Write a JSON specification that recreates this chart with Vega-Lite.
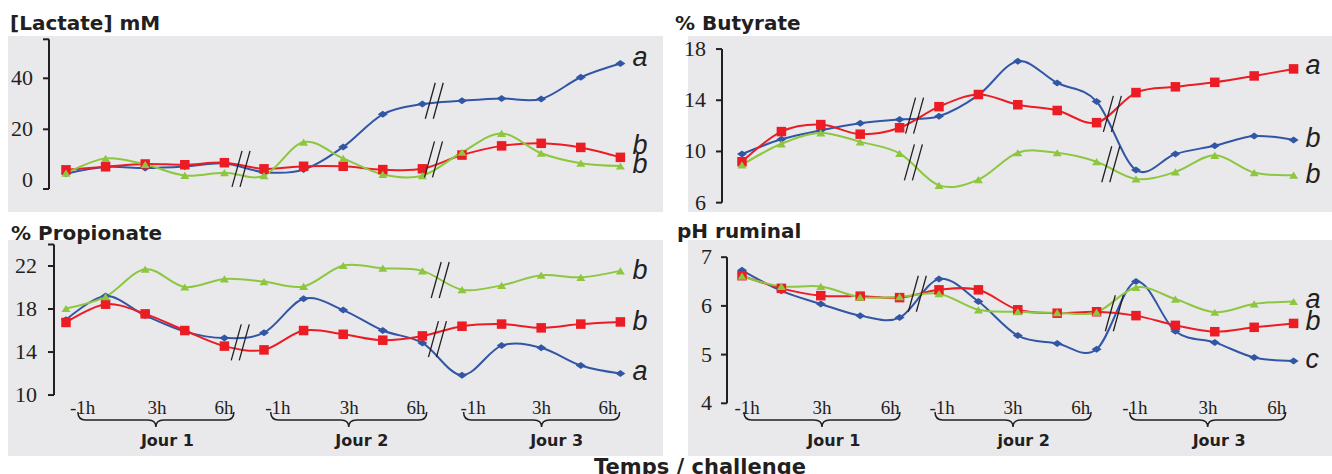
{
  "$schema": "https://vega.github.io/schema/vega-lite/v6.json",
  "background": "white",
  "padding": {"left": 8, "top": 14, "right": 0, "bottom": 0},
  "title": {"text": "Temps / challenge", "orient": "bottom", "anchor": "middle", "frame": "bounds", "dx": 30, "offset": 1, "fontSize": 21, "baseline": "top"},
  "bounds": "flush",
  "spacing": {"row": 28, "column": 25},
  "columns": 2,
  "datasets": {
    "lactate": [
      {"i":1,"s":"bleu","v":2.6},{"i":2,"s":"bleu","v":5.2},{"i":3,"s":"bleu","v":4.8},{"i":4,"s":"bleu","v":5.4},{"i":5,"s":"bleu","v":6.6},
      {"i":6,"s":"bleu","v":3.2},{"i":7,"s":"bleu","v":4.2},{"i":8,"s":"bleu","v":13.1},{"i":9,"s":"bleu","v":25.9},{"i":10,"s":"bleu","v":29.9},
      {"i":11,"s":"bleu","v":31.2},{"i":12,"s":"bleu","v":32.1},{"i":13,"s":"bleu","v":31.9},{"i":14,"s":"bleu","v":40.4},{"i":15,"s":"bleu","v":45.8},
      {"i":1,"s":"rouge","v":4.1},{"i":2,"s":"rouge","v":5.3},{"i":3,"s":"rouge","v":6.4},{"i":4,"s":"rouge","v":6.1},{"i":5,"s":"rouge","v":6.9},
      {"i":6,"s":"rouge","v":4.5},{"i":7,"s":"rouge","v":5.5},{"i":8,"s":"rouge","v":5.5},{"i":9,"s":"rouge","v":4.2},{"i":10,"s":"rouge","v":4.5},
      {"i":11,"s":"rouge","v":9.9},{"i":12,"s":"rouge","v":13.5},{"i":13,"s":"rouge","v":14.5},{"i":14,"s":"rouge","v":12.9},{"i":15,"s":"rouge","v":9.0},
      {"i":1,"s":"vert","v":2.8},{"i":2,"s":"vert","v":8.6},{"i":3,"s":"vert","v":6.2},{"i":4,"s":"vert","v":1.9},{"i":5,"s":"vert","v":3.0},
      {"i":6,"s":"vert","v":1.8},{"i":7,"s":"vert","v":15.0},{"i":8,"s":"vert","v":8.6},{"i":9,"s":"vert","v":2.3},{"i":10,"s":"vert","v":1.8},
      {"i":11,"s":"vert","v":11.0},{"i":12,"s":"vert","v":18.4},{"i":13,"s":"vert","v":10.6},{"i":14,"s":"vert","v":6.7},{"i":15,"s":"vert","v":5.6}
    ],
    "butyrate": [
      {"i":1,"s":"bleu","v":9.8},{"i":2,"s":"bleu","v":10.95},{"i":3,"s":"bleu","v":11.65},{"i":4,"s":"bleu","v":12.2},{"i":5,"s":"bleu","v":12.5},
      {"i":6,"s":"bleu","v":12.75},{"i":7,"s":"bleu","v":14.4},{"i":8,"s":"bleu","v":17.05},{"i":9,"s":"bleu","v":15.35},{"i":10,"s":"bleu","v":13.9},
      {"i":11,"s":"bleu","v":8.55},{"i":12,"s":"bleu","v":9.8},{"i":13,"s":"bleu","v":10.45},{"i":14,"s":"bleu","v":11.2},{"i":15,"s":"bleu","v":10.9},
      {"i":1,"s":"rouge","v":9.2},{"i":2,"s":"rouge","v":11.55},{"i":3,"s":"rouge","v":12.1},{"i":4,"s":"rouge","v":11.35},{"i":5,"s":"rouge","v":11.85},
      {"i":6,"s":"rouge","v":13.5},{"i":7,"s":"rouge","v":14.45},{"i":8,"s":"rouge","v":13.65},{"i":9,"s":"rouge","v":13.2},{"i":10,"s":"rouge","v":12.25},
      {"i":11,"s":"rouge","v":14.6},{"i":12,"s":"rouge","v":15.05},{"i":13,"s":"rouge","v":15.4},{"i":14,"s":"rouge","v":15.9},{"i":15,"s":"rouge","v":16.45},
      {"i":1,"s":"vert","v":8.95},{"i":2,"s":"vert","v":10.6},{"i":3,"s":"vert","v":11.45},{"i":4,"s":"vert","v":10.75},{"i":5,"s":"vert","v":9.85},
      {"i":6,"s":"vert","v":7.35},{"i":7,"s":"vert","v":7.8},{"i":8,"s":"vert","v":9.9},{"i":9,"s":"vert","v":9.9},{"i":10,"s":"vert","v":9.2},
      {"i":11,"s":"vert","v":7.85},{"i":12,"s":"vert","v":8.4},{"i":13,"s":"vert","v":9.7},{"i":14,"s":"vert","v":8.35},{"i":15,"s":"vert","v":8.15}
    ],
    "propionate": [
      {"i":1,"s":"bleu","v":17.0},{"i":2,"s":"bleu","v":19.2},{"i":3,"s":"bleu","v":17.4},{"i":4,"s":"bleu","v":15.9},{"i":5,"s":"bleu","v":15.3},
      {"i":6,"s":"bleu","v":15.8},{"i":7,"s":"bleu","v":18.95},{"i":8,"s":"bleu","v":17.9},{"i":9,"s":"bleu","v":16.0},{"i":10,"s":"bleu","v":14.85},
      {"i":11,"s":"bleu","v":11.85},{"i":12,"s":"bleu","v":14.6},{"i":13,"s":"bleu","v":14.4},{"i":14,"s":"bleu","v":12.75},{"i":15,"s":"bleu","v":12.0},
      {"i":1,"s":"rouge","v":16.75},{"i":2,"s":"rouge","v":18.45},{"i":3,"s":"rouge","v":17.55},{"i":4,"s":"rouge","v":16.0},{"i":5,"s":"rouge","v":14.55},
      {"i":6,"s":"rouge","v":14.2},{"i":7,"s":"rouge","v":16.0},{"i":8,"s":"rouge","v":15.65},{"i":9,"s":"rouge","v":15.1},{"i":10,"s":"rouge","v":15.5},
      {"i":11,"s":"rouge","v":16.4},{"i":12,"s":"rouge","v":16.6},{"i":13,"s":"rouge","v":16.25},{"i":14,"s":"rouge","v":16.6},{"i":15,"s":"rouge","v":16.8},
      {"i":1,"s":"vert","v":18.05},{"i":2,"s":"vert","v":19.15},{"i":3,"s":"vert","v":21.7},{"i":4,"s":"vert","v":20.05},{"i":5,"s":"vert","v":20.8},
      {"i":6,"s":"vert","v":20.55},{"i":7,"s":"vert","v":20.1},{"i":8,"s":"vert","v":22.05},{"i":9,"s":"vert","v":21.8},{"i":10,"s":"vert","v":21.55},
      {"i":11,"s":"vert","v":19.8},{"i":12,"s":"vert","v":20.2},{"i":13,"s":"vert","v":21.15},{"i":14,"s":"vert","v":20.95},{"i":15,"s":"vert","v":21.55}
    ],
    "ph": [
      {"i":1,"s":"bleu","v":6.73},{"i":2,"s":"bleu","v":6.31},{"i":3,"s":"bleu","v":6.04},{"i":4,"s":"bleu","v":5.8},{"i":5,"s":"bleu","v":5.76},
      {"i":6,"s":"bleu","v":6.55},{"i":7,"s":"bleu","v":6.09},{"i":8,"s":"bleu","v":5.39},{"i":9,"s":"bleu","v":5.23},{"i":10,"s":"bleu","v":5.11},
      {"i":11,"s":"bleu","v":6.5},{"i":12,"s":"bleu","v":5.48},{"i":13,"s":"bleu","v":5.25},{"i":14,"s":"bleu","v":4.94},{"i":15,"s":"bleu","v":4.87},
      {"i":1,"s":"rouge","v":6.62},{"i":2,"s":"rouge","v":6.36},{"i":3,"s":"rouge","v":6.21},{"i":4,"s":"rouge","v":6.2},{"i":5,"s":"rouge","v":6.17},
      {"i":6,"s":"rouge","v":6.33},{"i":7,"s":"rouge","v":6.33},{"i":8,"s":"rouge","v":5.92},{"i":9,"s":"rouge","v":5.85},{"i":10,"s":"rouge","v":5.88},
      {"i":11,"s":"rouge","v":5.8},{"i":12,"s":"rouge","v":5.6},{"i":13,"s":"rouge","v":5.47},{"i":14,"s":"rouge","v":5.56},{"i":15,"s":"rouge","v":5.64},
      {"i":1,"s":"vert","v":6.61},{"i":2,"s":"vert","v":6.4},{"i":3,"s":"vert","v":6.4},{"i":4,"s":"vert","v":6.18},{"i":5,"s":"vert","v":6.19},
      {"i":6,"s":"vert","v":6.25},{"i":7,"s":"vert","v":5.92},{"i":8,"s":"vert","v":5.88},{"i":9,"s":"vert","v":5.86},{"i":10,"s":"vert","v":5.87},
      {"i":11,"s":"vert","v":6.38},{"i":12,"s":"vert","v":6.14},{"i":13,"s":"vert","v":5.87},{"i":14,"s":"vert","v":6.04},{"i":15,"s":"vert","v":6.09}
    ]
  },
  "concat": [
    {
      "width": 655, "height": 176,
      "title": {"text": "[Lactate] mM", "dx": 2, "offset": 2},
      "layer": [
        {"data": {"values": [{}]},
         "mark": {"type": "rule", "color": "#231f20", "strokeWidth": 2},
         "encoding": {
           "x": {"datum": 0.571, "type": "quantitative", "axis": null},
           "y": {"datum": -3.4, "type": "quantitative", "axis": null},
           "y2": {"datum": 55.3}}},
        {"data": {"values": [{"v": -3.4}, {"v": 20}, {"v": 40}, {"v": 55.3}]},
         "mark": {"type": "rule", "color": "#231f20", "strokeWidth": 2, "xOffset": -6, "x2Offset": 0},
         "encoding": {"x": {"datum": 0.571, "type": "quantitative", "axis": null}, "x2": {"datum": 0.571}, "y": {"field": "v", "type": "quantitative", "axis": null}}},
        {"data": {"values": [{"v": 0, "t": "0"}, {"v": 20, "t": "20"}, {"v": 40, "t": "40"}]},
         "mark": {"type": "text", "font": "Liberation Sans Narrow", "fontSize": 22, "align": "right", "baseline": "middle", "dx": -16, "color": "#231f20"},
         "encoding": {"x": {"datum": 0.571, "type": "quantitative", "axis": null}, "y": {"field": "v", "type": "quantitative", "axis": null}, "text": {"field": "t"}}},
        {"data": {"name": "lactate"},
         "mark": {"type": "line", "interpolate": "cardinal", "strokeWidth": 2},
         "encoding": {
           "x": {"field": "i", "type": "quantitative", "scale": {"domain": [-0.4646, 16.076], "nice": false, "zero": false}, "axis": null},
           "y": {"field": "v", "type": "quantitative", "scale": {"domain": [-12.43, 56.59], "nice": false, "zero": false}, "axis": null},
           "color": {"field": "s", "type": "nominal", "scale": {"domain": ["bleu", "rouge", "vert"], "range": ["#3156a4", "#ec1c24", "#8dc63f"]}, "legend": null}}},
        {"data": {"name": "lactate"},
         "mark": {"type": "point", "filled": true, "opacity": 1, "strokeWidth": 0},
         "encoding": {
           "x": {"field": "i", "type": "quantitative", "axis": null},
           "y": {"field": "v", "type": "quantitative", "axis": null},
           "color": {"field": "s", "type": "nominal", "scale": {"domain": ["bleu", "rouge", "vert"], "range": ["#3156a4", "#ec1c24", "#8dc63f"]}, "legend": null},
           "shape": {"field": "s", "type": "nominal", "scale": {"domain": ["bleu", "rouge", "vert"], "range": ["M -1 0 L 0 -0.7 L 1 0 L 0 0.7 Z", "square", "M 0 -0.8 L 1 0.8 L -1 0.8 Z"]}, "legend": null},
           "size": {"field": "s", "type": "nominal", "scale": {"domain": ["bleu", "rouge", "vert"], "range": [100, 81, 121]}, "legend": null}}},
        {"data": {"values": [{"x": 5.42, "y": 4.5}, {"x": 10.3, "y": 31.2}, {"x": 10.28, "y": 8.2}]},
         "mark": {"type": "rule", "color": "#231f20", "strokeWidth": 1.3, "xOffset": -9, "x2Offset": 1, "yOffset": 18, "y2Offset": -18},
         "encoding": {"x": {"field": "x", "type": "quantitative", "axis": null}, "x2": {"field": "x"}, "y": {"field": "y", "type": "quantitative", "axis": null}, "y2": {"field": "y"}}},
        {"data": {"values": [{"x": 5.42, "y": 4.5}, {"x": 10.3, "y": 31.2}, {"x": 10.28, "y": 8.2}]},
         "mark": {"type": "rule", "color": "#231f20", "strokeWidth": 1.3, "xOffset": -1, "x2Offset": 9, "yOffset": 18, "y2Offset": -18},
         "encoding": {"x": {"field": "x", "type": "quantitative", "axis": null}, "x2": {"field": "x"}, "y": {"field": "y", "type": "quantitative", "axis": null}, "y2": {"field": "y"}}},
        {"data": {"values": [{"t": "a", "y": 47.8}, {"t": "b", "y": 13.3}, {"t": "b", "y": 5.9}]},
         "mark": {"type": "text", "font": "Liberation Sans", "fontStyle": "italic", "fontSize": 27, "align": "left", "baseline": "middle", "dx": 12, "color": "#231f20"},
         "encoding": {"x": {"datum": 15, "type": "quantitative", "axis": null}, "y": {"field": "y", "type": "quantitative", "axis": null}, "text": {"field": "t"}}}
      ]
    },
    {
      "width": 644, "height": 176,
      "title": {"text": "% Butyrate", "dx": -13, "offset": 2},
      "layer": [
        {"data": {"values": [{}]},
         "mark": {"type": "rule", "color": "#231f20", "strokeWidth": 2},
         "encoding": {
           "x": {"datum": 0.492, "type": "quantitative", "axis": null},
           "y": {"datum": 6, "type": "quantitative", "axis": null},
           "y2": {"datum": 18}}},
        {"data": {"values": [{"v": 6}, {"v": 10}, {"v": 14}, {"v": 18}]},
         "mark": {"type": "rule", "color": "#231f20", "strokeWidth": 2, "xOffset": -6, "x2Offset": 0},
         "encoding": {"x": {"datum": 0.492, "type": "quantitative", "axis": null}, "x2": {"datum": 0.492}, "y": {"field": "v", "type": "quantitative", "axis": null}}},
        {"data": {"values": [{"v": 6, "t": "6"}, {"v": 10, "t": "10"}, {"v": 14, "t": "14"}, {"v": 18, "t": "18"}]},
         "mark": {"type": "text", "font": "Liberation Sans Narrow", "fontSize": 22, "align": "right", "baseline": "middle", "dx": -16, "color": "#231f20"},
         "encoding": {"x": {"datum": 0.492, "type": "quantitative", "axis": null}, "y": {"field": "v", "type": "quantitative", "axis": null}, "text": {"field": "t"}}},
        {"data": {"name": "butyrate"},
         "mark": {"type": "line", "interpolate": "cardinal", "strokeWidth": 2},
         "encoding": {
           "x": {"field": "i", "type": "quantitative", "scale": {"domain": [-0.3706, 15.975], "nice": false, "zero": false}, "axis": null},
           "y": {"field": "v", "type": "quantitative", "scale": {"domain": [5.27, 19.02], "nice": false, "zero": false}, "axis": null},
           "color": {"field": "s", "type": "nominal", "scale": {"domain": ["bleu", "rouge", "vert"], "range": ["#3156a4", "#ec1c24", "#8dc63f"]}, "legend": null}}},
        {"data": {"name": "butyrate"},
         "mark": {"type": "point", "filled": true, "opacity": 1, "strokeWidth": 0},
         "encoding": {
           "x": {"field": "i", "type": "quantitative", "axis": null},
           "y": {"field": "v", "type": "quantitative", "axis": null},
           "color": {"field": "s", "type": "nominal", "scale": {"domain": ["bleu", "rouge", "vert"], "range": ["#3156a4", "#ec1c24", "#8dc63f"]}, "legend": null},
           "shape": {"field": "s", "type": "nominal", "scale": {"domain": ["bleu", "rouge", "vert"], "range": ["M -1 0 L 0 -0.7 L 1 0 L 0 0.7 Z", "square", "M 0 -0.8 L 1 0.8 L -1 0.8 Z"]}, "legend": null},
           "size": {"field": "s", "type": "nominal", "scale": {"domain": ["bleu", "rouge", "vert"], "range": [100, 81, 121]}, "legend": null}}},
        {"data": {"values": [{"x": 5.38, "y": 12.8}, {"x": 5.35, "y": 9.15}, {"x": 10.4, "y": 12.94}, {"x": 10.36, "y": 9.0}]},
         "mark": {"type": "rule", "color": "#231f20", "strokeWidth": 1.3, "xOffset": -9, "x2Offset": 1, "yOffset": 18, "y2Offset": -18},
         "encoding": {"x": {"field": "x", "type": "quantitative", "axis": null}, "x2": {"field": "x"}, "y": {"field": "y", "type": "quantitative", "axis": null}, "y2": {"field": "y"}}},
        {"data": {"values": [{"x": 5.38, "y": 12.8}, {"x": 5.35, "y": 9.15}, {"x": 10.4, "y": 12.94}, {"x": 10.36, "y": 9.0}]},
         "mark": {"type": "rule", "color": "#231f20", "strokeWidth": 1.3, "xOffset": -1, "x2Offset": 9, "yOffset": 18, "y2Offset": -18},
         "encoding": {"x": {"field": "x", "type": "quantitative", "axis": null}, "x2": {"field": "x"}, "y": {"field": "y", "type": "quantitative", "axis": null}, "y2": {"field": "y"}}},
        {"data": {"values": [{"t": "a", "y": 16.7}, {"t": "b", "y": 11.0}, {"t": "b", "y": 8.15}]},
         "mark": {"type": "text", "font": "Liberation Sans", "fontStyle": "italic", "fontSize": 27, "align": "left", "baseline": "middle", "dx": 12, "color": "#231f20"},
         "encoding": {"x": {"datum": 15, "type": "quantitative", "axis": null}, "y": {"field": "y", "type": "quantitative", "axis": null}, "text": {"field": "t"}}}
      ]
    },
    {
      "width": 655, "height": 216,
      "title": {"text": "% Propionate", "dx": 3, "offset": -4},
      "layer": [
        {"data": {"values": [{}]},
         "mark": {"type": "rule", "color": "#231f20", "strokeWidth": 2},
         "encoding": {
           "x": {"datum": 0.697, "type": "quantitative", "axis": null},
           "y": {"datum": 10, "type": "quantitative", "axis": null},
           "y2": {"datum": 24}}},
        {"data": {"values": [{"v": 10}, {"v": 14}, {"v": 18}, {"v": 22}, {"v": 24}]},
         "mark": {"type": "rule", "color": "#231f20", "strokeWidth": 2, "xOffset": -6, "x2Offset": 0},
         "encoding": {"x": {"datum": 0.697, "type": "quantitative", "axis": null}, "x2": {"datum": 0.697}, "y": {"field": "v", "type": "quantitative", "axis": null}}},
        {"data": {"values": [{"v": 10, "t": "10"}, {"v": 14, "t": "14"}, {"v": 18, "t": "18"}, {"v": 22, "t": "22"}]},
         "mark": {"type": "text", "font": "Liberation Sans Narrow", "fontSize": 22, "align": "right", "baseline": "middle", "dx": -17, "color": "#231f20"},
         "encoding": {"x": {"datum": 0.697, "type": "quantitative", "axis": null}, "y": {"field": "v", "type": "quantitative", "axis": null}, "text": {"field": "t"}}},
        {"data": {"name": "propionate"},
         "mark": {"type": "line", "interpolate": "cardinal", "strokeWidth": 2},
         "encoding": {
           "x": {"field": "i", "type": "quantitative", "scale": {"domain": [-0.4646, 16.076], "nice": false, "zero": false}, "axis": null},
           "y": {"field": "v", "type": "quantitative", "scale": {"domain": [4.33, 24.42], "nice": false, "zero": false}, "axis": null},
           "color": {"field": "s", "type": "nominal", "scale": {"domain": ["bleu", "rouge", "vert"], "range": ["#3156a4", "#ec1c24", "#8dc63f"]}, "legend": null}}},
        {"data": {"name": "propionate"},
         "mark": {"type": "point", "filled": true, "opacity": 1, "strokeWidth": 0},
         "encoding": {
           "x": {"field": "i", "type": "quantitative", "axis": null},
           "y": {"field": "v", "type": "quantitative", "axis": null},
           "color": {"field": "s", "type": "nominal", "scale": {"domain": ["bleu", "rouge", "vert"], "range": ["#3156a4", "#ec1c24", "#8dc63f"]}, "legend": null},
           "shape": {"field": "s", "type": "nominal", "scale": {"domain": ["bleu", "rouge", "vert"], "range": ["M -1 0 L 0 -0.7 L 1 0 L 0 0.7 Z", "square", "M 0 -0.8 L 1 0.8 L -1 0.8 Z"]}, "legend": null},
           "size": {"field": "s", "type": "nominal", "scale": {"domain": ["bleu", "rouge", "vert"], "range": [100, 81, 121]}, "legend": null}}},
        {"data": {"values": [{"x": 5.4, "y": 14.9}, {"x": 10.45, "y": 20.7}, {"x": 10.38, "y": 15.2}]},
         "mark": {"type": "rule", "color": "#231f20", "strokeWidth": 1.3, "xOffset": -9, "x2Offset": 1, "yOffset": 18, "y2Offset": -18},
         "encoding": {"x": {"field": "x", "type": "quantitative", "axis": null}, "x2": {"field": "x"}, "y": {"field": "y", "type": "quantitative", "axis": null}, "y2": {"field": "y"}}},
        {"data": {"values": [{"x": 5.4, "y": 14.9}, {"x": 10.45, "y": 20.7}, {"x": 10.38, "y": 15.2}]},
         "mark": {"type": "rule", "color": "#231f20", "strokeWidth": 1.3, "xOffset": -1, "x2Offset": 9, "yOffset": 18, "y2Offset": -18},
         "encoding": {"x": {"field": "x", "type": "quantitative", "axis": null}, "x2": {"field": "x"}, "y": {"field": "y", "type": "quantitative", "axis": null}, "y2": {"field": "y"}}},
        {"data": {"values": [{"t": "b", "y": 21.54}, {"t": "b", "y": 16.77}, {"t": "a", "y": 12.15}]},
         "mark": {"type": "text", "font": "Liberation Sans", "fontStyle": "italic", "fontSize": 27, "align": "left", "baseline": "middle", "dx": 12, "color": "#231f20"},
         "encoding": {"x": {"datum": 15, "type": "quantitative", "axis": null}, "y": {"field": "y", "type": "quantitative", "axis": null}, "text": {"field": "t"}}},
        {"data": {"values": [{"t": "-1h", "x": 1.42}, {"t": "3h", "x": 3.3}, {"t": "6h", "x": 4.99}, {"t": "-1h", "x": 6.35}, {"t": "3h", "x": 8.15}, {"t": "6h", "x": 9.84}, {"t": "-1h", "x": 11.28}, {"t": "3h", "x": 13.01}, {"t": "6h", "x": 14.69}]},
         "mark": {"type": "text", "font": "Liberation Sans Narrow", "fontSize": 19, "align": "center", "baseline": "middle", "color": "#231f20"},
         "encoding": {"x": {"field": "x", "type": "quantitative", "axis": null}, "y": {"datum": 8.79, "type": "quantitative", "axis": null}, "text": {"field": "t"}}},
        {"data": {"values": [{"jour": "Jour 1", "x": 3.27}, {"jour": "Jour 2", "x": 8.14}, {"jour": "Jour 3", "x": 13.01}]},
         "mark": {"type": "point", "shape": "M -1 -0.103 Q -1 0 -0.9 0 L -0.1 0 Q 0 0 0 0.09 Q 0 0 0.1 0 L 0.9 0 Q 1 0 1 -0.103", "size": 24336, "filled": false, "stroke": "#231f20", "strokeWidth": 1.5, "opacity": 1},
         "encoding": {"x": {"field": "x", "type": "quantitative", "axis": null}, "y": {"datum": 7.674, "type": "quantitative", "axis": null}}},
        {"data": {"values": [{"t": "Jour 1", "x": 3.56}, {"t": "Jour 2", "x": 8.47}, {"t": "Jour 3", "x": 13.39}]},
         "mark": {"type": "text", "font": "DejaVu Sans", "fontWeight": "bold", "fontSize": 16, "align": "center", "baseline": "middle", "color": "#231f20"},
         "encoding": {"x": {"field": "x", "type": "quantitative", "axis": null}, "y": {"datum": 5.767, "type": "quantitative", "axis": null}, "text": {"field": "t"}}}
      ]
    },
    {
      "width": 644, "height": 216,
      "title": {"text": "pH ruminal", "dx": -11, "offset": -2},
      "layer": [
        {"data": {"values": [{}]},
         "mark": {"type": "rule", "color": "#231f20", "strokeWidth": 2},
         "encoding": {
           "x": {"datum": 0.619, "type": "quantitative", "axis": null},
           "y": {"datum": 4, "type": "quantitative", "axis": null},
           "y2": {"datum": 7}}},
        {"data": {"values": [{"v": 4}, {"v": 5}, {"v": 6}, {"v": 7}]},
         "mark": {"type": "rule", "color": "#231f20", "strokeWidth": 2, "xOffset": -6, "x2Offset": 0},
         "encoding": {"x": {"datum": 0.619, "type": "quantitative", "axis": null}, "x2": {"datum": 0.619}, "y": {"field": "v", "type": "quantitative", "axis": null}}},
        {"data": {"values": [{"v": 4, "t": "4"}, {"v": 5, "t": "5"}, {"v": 6, "t": "6"}, {"v": 7, "t": "7"}]},
         "mark": {"type": "text", "font": "Liberation Sans Narrow", "fontSize": 22, "align": "right", "baseline": "middle", "dx": -15, "color": "#231f20"},
         "encoding": {"x": {"datum": 0.619, "type": "quantitative", "axis": null}, "y": {"field": "v", "type": "quantitative", "axis": null}, "text": {"field": "t"}}},
        {"data": {"name": "ph"},
         "mark": {"type": "line", "interpolate": "cardinal", "strokeWidth": 2},
         "encoding": {
           "x": {"field": "i", "type": "quantitative", "scale": {"domain": [-0.3706, 15.975], "nice": false, "zero": false}, "axis": null},
           "y": {"field": "v", "type": "quantitative", "scale": {"domain": [2.918, 7.353], "nice": false, "zero": false}, "axis": null},
           "color": {"field": "s", "type": "nominal", "scale": {"domain": ["bleu", "rouge", "vert"], "range": ["#3156a4", "#ec1c24", "#8dc63f"]}, "legend": null}}},
        {"data": {"name": "ph"},
         "mark": {"type": "point", "filled": true, "opacity": 1, "strokeWidth": 0},
         "encoding": {
           "x": {"field": "i", "type": "quantitative", "axis": null},
           "y": {"field": "v", "type": "quantitative", "axis": null},
           "color": {"field": "s", "type": "nominal", "scale": {"domain": ["bleu", "rouge", "vert"], "range": ["#3156a4", "#ec1c24", "#8dc63f"]}, "legend": null},
           "shape": {"field": "s", "type": "nominal", "scale": {"domain": ["bleu", "rouge", "vert"], "range": ["M -1 0 L 0 -0.7 L 1 0 L 0 0.7 Z", "square", "M 0 -0.8 L 1 0.8 L -1 0.8 Z"]}, "legend": null},
           "size": {"field": "s", "type": "nominal", "scale": {"domain": ["bleu", "rouge", "vert"], "range": [100, 81, 121]}, "legend": null}}},
        {"data": {"values": [{"x": 5.45, "y": 6.25}, {"x": 10.45, "y": 5.85}]},
         "mark": {"type": "rule", "color": "#231f20", "strokeWidth": 1.3, "xOffset": -9, "x2Offset": 1, "yOffset": 18, "y2Offset": -18},
         "encoding": {"x": {"field": "x", "type": "quantitative", "axis": null}, "x2": {"field": "x"}, "y": {"field": "y", "type": "quantitative", "axis": null}, "y2": {"field": "y"}}},
        {"data": {"values": [{"x": 5.45, "y": 6.25}, {"x": 10.45, "y": 5.85}]},
         "mark": {"type": "rule", "color": "#231f20", "strokeWidth": 1.3, "xOffset": -1, "x2Offset": 9, "yOffset": 18, "y2Offset": -18},
         "encoding": {"x": {"field": "x", "type": "quantitative", "axis": null}, "x2": {"field": "x"}, "y": {"field": "y", "type": "quantitative", "axis": null}, "y2": {"field": "y"}}},
        {"data": {"values": [{"t": "a", "y": 6.12}, {"t": "b", "y": 5.66}, {"t": "c", "y": 4.89}]},
         "mark": {"type": "text", "font": "Liberation Sans", "fontStyle": "italic", "fontSize": 27, "align": "left", "baseline": "middle", "dx": 12, "color": "#231f20"},
         "encoding": {"x": {"datum": 15, "type": "quantitative", "axis": null}, "y": {"field": "y", "type": "quantitative", "axis": null}, "text": {"field": "t"}}},
        {"data": {"values": [{"t": "-1h", "x": 1.13}, {"t": "3h", "x": 3.03}, {"t": "6h", "x": 4.76}, {"t": "-1h", "x": 6.08}, {"t": "3h", "x": 7.88}, {"t": "6h", "x": 9.6}, {"t": "-1h", "x": 10.97}, {"t": "3h", "x": 12.83}, {"t": "6h", "x": 14.57}]},
         "mark": {"type": "text", "font": "Liberation Sans Narrow", "fontSize": 19, "align": "center", "baseline": "middle", "color": "#231f20"},
         "encoding": {"x": {"field": "x", "type": "quantitative", "axis": null}, "y": {"datum": 3.9, "type": "quantitative", "axis": null}, "text": {"field": "t"}}},
        {"data": {"values": [{"jour": "Jour 1", "x": 3.03}, {"jour": "jour 2", "x": 7.88}, {"jour": "Jour 3", "x": 12.82}]},
         "mark": {"type": "point", "shape": "M -1 -0.103 Q -1 0 -0.9 0 L -0.1 0 Q 0 0 0 0.09 Q 0 0 0.1 0 L 0.9 0 Q 1 0 1 -0.103", "size": 24336, "filled": false, "stroke": "#231f20", "strokeWidth": 1.5, "opacity": 1},
         "encoding": {"x": {"field": "x", "type": "quantitative", "axis": null}, "y": {"datum": 3.659, "type": "quantitative", "axis": null}}},
        {"data": {"values": [{"t": "Jour 1", "x": 3.33}, {"t": "jour 2", "x": 8.15}, {"t": "Jour 3", "x": 13.11}]},
         "mark": {"type": "text", "font": "DejaVu Sans", "fontWeight": "bold", "fontSize": 16, "align": "center", "baseline": "middle", "color": "#231f20"},
         "encoding": {"x": {"field": "x", "type": "quantitative", "axis": null}, "y": {"datum": 3.236, "type": "quantitative", "axis": null}, "text": {"field": "t"}}}
      ]
    }
  ],
  "config": {
    "view": {"stroke": null, "fill": "#e9e9ec"},
    "title": {"anchor": "start", "frame": "group", "font": "DejaVu Sans", "fontSize": 20, "fontWeight": "bold", "color": "#231f20", "baseline": "alphabetic"}
  }
}
